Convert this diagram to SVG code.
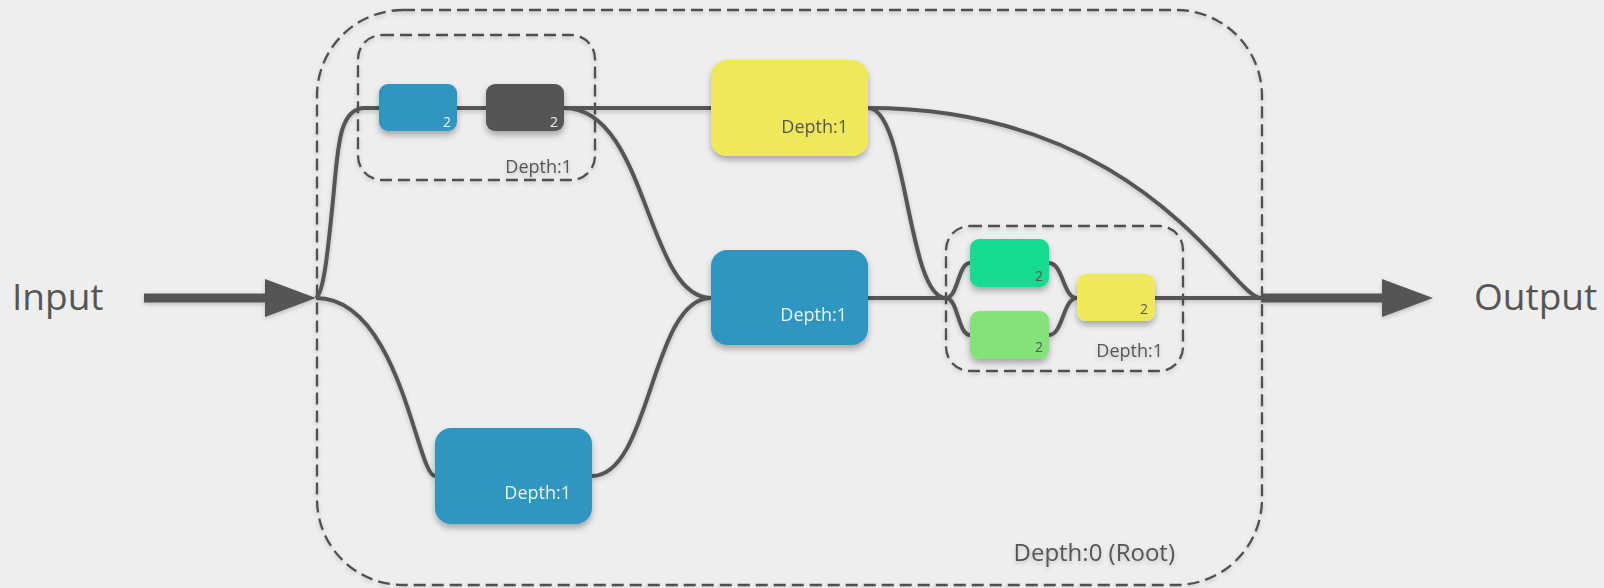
<svg xmlns="http://www.w3.org/2000/svg" width="1604" height="588" viewBox="0 0 1604 588">
  <defs>
    <filter id="nodeShadow" x="-20%" y="-20%" width="140%" height="150%">
      <feDropShadow dx="0" dy="4" stdDeviation="3" flood-color="#000" flood-opacity="0.3"/>
    </filter>
    <filter id="lineShadow" x="-10%" y="-10%" width="120%" height="130%">
      <feDropShadow dx="0" dy="2" stdDeviation="2" flood-color="#000" flood-opacity="0.2"/>
    </filter>
  </defs>
  <style>
    .bg { fill: #eeeeee; }
    .group { fill: none; stroke: #505050; stroke-width: 2.3; stroke-dasharray: 12 6; }
    .link { fill: none; stroke: #555555; stroke-width: 4; }
    .arrow { fill: #555555; }
    .node { filter: url(#nodeShadow); }
    .blue { fill: #2d96c1; }
    .dark { fill: #555555; }
    .yellow { fill: #efe95a; }
    .green1 { fill: #16dc8f; }
    .green2 { fill: #84e378; }
    text { font-family: "Open Sans", "Noto Sans", "DejaVu Sans", sans-serif; }
    .io { font-size: 37px; fill: #555555; }
    .depth { font-size: 18px; text-anchor: end; }
    .root { font-size: 24px; text-anchor: end; fill: #555555; }
    .count { font-size: 14px; text-anchor: end; }
    .on-light { fill: #555555; }
    .on-dark { fill: #eef6fa; }
  </style>

  <rect class="bg" x="0" y="0" width="1604" height="588"/>

  <!-- Nesting containers -->
  <g id="group-root" filter="url(#lineShadow)">
    <rect class="group" x="317" y="10" width="945" height="575" rx="86" ry="86"/>
    <text class="root" x="1175" y="561">Depth:0 (Root)</text>
  </g>
  <g id="group-a" filter="url(#lineShadow)">
    <rect class="group" x="358" y="35" width="237" height="145" rx="24" ry="24"/>
    <text class="depth on-light" x="572" y="173">Depth:1</text>
  </g>
  <g id="group-b" filter="url(#lineShadow)">
    <rect class="group" x="946" y="226" width="237" height="145" rx="24" ry="24"/>
    <text class="depth on-light" x="1163" y="357">Depth:1</text>
  </g>

  <!-- Connectors -->
  <g id="connectors" filter="url(#lineShadow)">
    <path class="link" d="M316,298 C324,292 328,250 333,200 C338,150 338,108 365,108 L379,108"/>
    <path class="link" d="M316,298 C400,298 417,476 435,476"/>
    <path class="link" d="M457,108 L486,108"/>
    <path class="link" d="M564,108 L711,108"/>
    <path class="link" d="M564,108 C648,108 646,298 711,298"/>
    <path class="link" d="M592,476 C651,476 651,298 711,298"/>
    <path class="link" d="M868,108 C1145,108 1232,298 1261,298"/>
    <path class="link" d="M868,108 C907,108 907,298 946,298"/>
    <path class="link" d="M868,298 L946,298"/>
    <path class="link" d="M946,298 C958,298 958,263 970,263"/>
    <path class="link" d="M946,298 C958,298 958,335 970,335"/>
    <path class="link" d="M1049,263 C1063,263 1063,298 1077,298"/>
    <path class="link" d="M1049,335 C1063,335 1063,298 1077,298"/>
    <path class="link" d="M1155,298 L1261,298"/>
    <!-- input / output arrows -->
    <rect class="arrow" x="144" y="293.5" width="124" height="9"/>
    <polygon class="arrow" points="265,279 316,298 265,317"/>
    <rect class="arrow" x="1261" y="293.5" width="124" height="9"/>
    <polygon class="arrow" points="1382,279 1433,298 1382,317"/>
  </g>

  <text id="input-label" class="io" x="12" y="310">Input</text>
  <text id="output-label" class="io" x="1474" y="310">Output</text>

  <!-- Nodes -->
  <g id="node-a1" class="node">
    <rect class="blue" x="379" y="84" width="78" height="47" rx="9" ry="9"/>
    <text class="count on-dark" x="451" y="127">2</text>
  </g>
  <g id="node-a2" class="node">
    <rect class="dark" x="486" y="84" width="78" height="47" rx="9" ry="9"/>
    <text class="count on-dark" x="558" y="127">2</text>
  </g>
  <g id="node-top" class="node">
    <rect class="yellow" x="711" y="60" width="157" height="96" rx="16" ry="16"/>
    <text class="depth on-light" x="848" y="133">Depth:1</text>
  </g>
  <g id="node-mid" class="node">
    <rect class="blue" x="711" y="250" width="157" height="95" rx="16" ry="16"/>
    <text class="depth on-dark" x="847" y="321">Depth:1</text>
  </g>
  <g id="node-bottom" class="node">
    <rect class="blue" x="435" y="428" width="157" height="96" rx="16" ry="16"/>
    <text class="depth on-dark" x="571" y="499">Depth:1</text>
  </g>
  <g id="node-b1" class="node">
    <rect class="green1" x="970" y="239" width="79" height="48" rx="9" ry="9"/>
    <text class="count on-light" x="1043" y="281">2</text>
  </g>
  <g id="node-b2" class="node">
    <rect class="green2" x="970" y="311" width="79" height="48" rx="9" ry="9"/>
    <text class="count on-light" x="1043" y="352">2</text>
  </g>
  <g id="node-b3" class="node">
    <rect class="yellow" x="1077" y="274" width="78" height="47" rx="9" ry="9"/>
    <text class="count on-light" x="1148" y="314">2</text>
  </g>
</svg>
